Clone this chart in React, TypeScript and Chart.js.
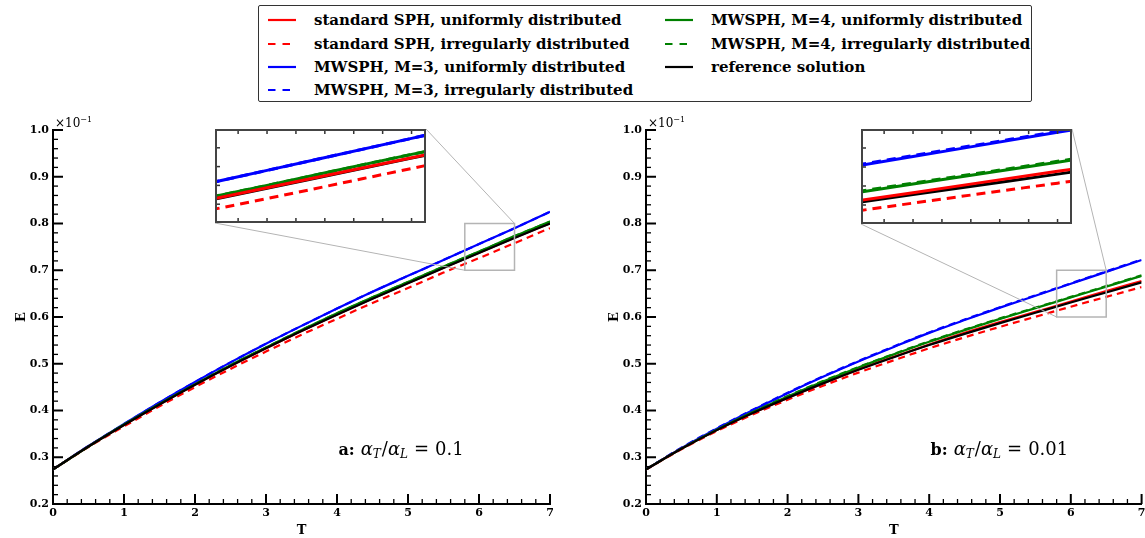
import React, { useEffect, useRef } from "react";
import { Chart, registerables } from "chart.js";
Chart.register(...registerables);

// ---------------- data ----------------
const T_VALUES = [0, 0.5, 1, 1.5, 2, 2.5, 3, 3.5, 4, 4.5, 5, 5.5, 6, 6.5, 7];

// panel a: alpha_T/alpha_L = 0.1
const A_SPH_UNIFORM = [0.274, 0.323, 0.369, 0.413, 0.455, 0.495, 0.533, 0.570, 0.6055, 0.6395, 0.6725, 0.7055, 0.7375, 0.7695, 0.8005];
const A_SPH_IRREGULAR = [0.274, 0.322, 0.366, 0.409, 0.450, 0.489, 0.526, 0.562, 0.596, 0.630, 0.662, 0.695, 0.726, 0.758, 0.790];
const A_M3_UNIFORM = [0.274, 0.324, 0.371, 0.417, 0.461, 0.503, 0.543, 0.581, 0.618, 0.654, 0.688, 0.722, 0.756, 0.790, 0.825];
const A_M3_IRREGULAR = [0.274, 0.324, 0.371, 0.417, 0.461, 0.503, 0.543, 0.581, 0.618, 0.654, 0.688, 0.722, 0.756, 0.790, 0.825];
const A_M4_UNIFORM = [0.274, 0.323, 0.370, 0.414, 0.456, 0.497, 0.535, 0.572, 0.608, 0.642, 0.675, 0.708, 0.740, 0.773, 0.804];
const A_M4_IRREGULAR = [0.274, 0.323, 0.370, 0.414, 0.456, 0.497, 0.535, 0.572, 0.608, 0.642, 0.675, 0.708, 0.740, 0.773, 0.804];
const A_REFERENCE = [0.274, 0.323, 0.369, 0.413, 0.455, 0.495, 0.533, 0.570, 0.605, 0.639, 0.672, 0.705, 0.737, 0.769, 0.800];

// panel b: alpha_T/alpha_L = 0.01
const B_SPH_UNIFORM = [0.274, 0.318, 0.358, 0.394, 0.427, 0.458, 0.488, 0.515, 0.541, 0.566, 0.589, 0.611, 0.633, 0.6555, 0.677];
const B_SPH_IRREGULAR = [0.274, 0.317, 0.356, 0.391, 0.423, 0.453, 0.481, 0.5075, 0.533, 0.5565, 0.579, 0.6005, 0.622, 0.643, 0.664];
const B_M3_UNIFORM = [0.274, 0.3195, 0.361, 0.400, 0.437, 0.472, 0.505, 0.536, 0.566, 0.5935, 0.620, 0.6455, 0.671, 0.6965, 0.722];
const B_M3_IRREGULAR = [0.274, 0.3205, 0.362, 0.401, 0.438, 0.473, 0.506, 0.537, 0.567, 0.5945, 0.621, 0.6465, 0.672, 0.6975, 0.723];
const B_M4_UNIFORM = [0.274, 0.3185, 0.359, 0.396, 0.430, 0.462, 0.492, 0.520, 0.547, 0.572, 0.596, 0.619, 0.642, 0.665, 0.688];
const B_M4_IRREGULAR = [0.274, 0.319, 0.360, 0.397, 0.431, 0.463, 0.493, 0.521, 0.548, 0.573, 0.597, 0.620, 0.643, 0.666, 0.689];
const B_REFERENCE = [0.274, 0.318, 0.358, 0.394, 0.427, 0.458, 0.487, 0.514, 0.540, 0.564, 0.587, 0.609, 0.631, 0.6525, 0.674];

const SERIES_LABELS = [
  "standard SPH, uniformly distributed",
  "standard SPH, irregularly distributed",
  "MWSPH, M=3, uniformly distributed",
  "MWSPH, M=3, irregularly distributed",
  "MWSPH, M=4, uniformly distributed",
  "MWSPH, M=4, irregularly distributed",
  "reference solution",
];
const SERIES_COLORS = ["#ff0000", "#ff0000", "#0000ff", "#0000ff", "#008000", "#008000", "#000000"];
const SERIES_DASHED = [false, true, false, true, false, true, false];

const X_TICKS = [0, 1, 2, 3, 4, 5, 6, 7];
const Y_TICKS = [0.2, 0.3, 0.4, 0.5, 0.6, 0.7, 0.8, 0.9, 1.0];
const INSET_X_TICKS = [5.9, 6.0, 6.1, 6.2, 6.3, 6.4, 6.5];
const A_INSET_Y_TICKS = [0.72, 0.74, 0.76, 0.78];
const B_INSET_Y_TICKS = [0.62, 0.64, 0.66, 0.68];

// ---------------- layout / style ----------------
const SERIF = '"DejaVu Serif", serif';
const MAIN_TOP = 100;
const MAIN_W = 590;
const MAIN_H = 438;
const MAIN_ORDER = [2, 5, 3, 6, 1, 4, 0];
const INSET_ORDER = [0, 5, 3, 6, 2, 4, 1];

const PANELS = [
  {
    series: [A_SPH_UNIFORM, A_SPH_IRREGULAR, A_M3_UNIFORM, A_M3_IRREGULAR, A_M4_UNIFORM, A_M4_IRREGULAR, A_REFERENCE],
    canvasLeft: 0,
    padRight: 40,
    zoomX: [5.8, 6.5],
    zoomY: [0.7, 0.8],
    insetX: [5.82, 6.55],
    insetY: [0.7, 0.8],
    insetYTicks: A_INSET_Y_TICKS,
    inset: { left: 215, top: 129, w: 211, h: 94 },
    tag: "a:",
    ratio: "0.1",
  },
  {
    series: [B_SPH_UNIFORM, B_SPH_IRREGULAR, B_M3_UNIFORM, B_M3_IRREGULAR, B_M4_UNIFORM, B_M4_IRREGULAR, B_REFERENCE],
    canvasLeft: 593,
    padRight: 41.4,
    zoomX: [5.8, 6.5],
    zoomY: [0.6, 0.7],
    insetX: [5.82, 6.55],
    insetY: [0.6, 0.7],
    insetYTicks: B_INSET_Y_TICKS,
    inset: { left: 861, top: 129, w: 211, h: 95 },
    tag: "b:",
    ratio: "0.01",
  },
];

function drawParts(ctx: CanvasRenderingContext2D, x: number, y: number, parts: any[]) {
  let cx = x;
  ctx.textBaseline = "alphabetic";
  ctx.textAlign = "left";
  for (const p of parts) {
    ctx.font = p.font;
    ctx.fillText(p.text, cx, y + (p.dy || 0));
    cx += ctx.measureText(p.text).width + (p.after || 0);
  }
}

const mainDecor = {
  id: "mainDecor",
  afterDraw(chart: any, _args: any, opts: any) {
    const { ctx, chartArea } = chart;
    const xs = chart.scales.x;
    const ys = chart.scales.y;
    const p = opts.panel;
    ctx.save();
    ctx.lineCap = "butt";
    ctx.strokeStyle = "#000";
    const xLine = (v: number, len: number, w: number) => {
      const px = xs.getPixelForValue(v);
      ctx.lineWidth = w;
      ctx.beginPath();
      ctx.moveTo(px, chartArea.bottom);
      ctx.lineTo(px, chartArea.bottom - len);
      ctx.stroke();
    };
    const yLine = (v: number, len: number, w: number) => {
      const py = ys.getPixelForValue(v);
      ctx.lineWidth = w;
      ctx.beginPath();
      ctx.moveTo(chartArea.left, py);
      ctx.lineTo(chartArea.left + len, py);
      ctx.stroke();
    };
    for (let i = 0; i < X_TICKS.length - 1; i++) {
      for (let k = 1; k < 5; k++) xLine(X_TICKS[i] + (k * (X_TICKS[i + 1] - X_TICKS[i])) / 5, 5, 1.3);
    }
    X_TICKS.forEach((v) => xLine(v, 10, 2));
    for (let i = 0; i < Y_TICKS.length - 1; i++) {
      for (let k = 1; k < 5; k++) yLine(Y_TICKS[i] + (k * (Y_TICKS[i + 1] - Y_TICKS[i])) / 5, 5, 1.3);
    }
    Y_TICKS.forEach((v) => yLine(v, 10, 2));

    // zoom rectangle + connectors
    const rx0 = xs.getPixelForValue(p.zoomX[0]);
    const rx1 = xs.getPixelForValue(p.zoomX[1]);
    const ry0 = ys.getPixelForValue(p.zoomY[0]);
    const ry1 = ys.getPixelForValue(p.zoomY[1]);
    ctx.strokeStyle = "#b4b4b4";
    ctx.lineWidth = 1.5;
    ctx.strokeRect(rx0, ry1, rx1 - rx0, ry0 - ry1);
    ctx.lineWidth = 1;
    const il = p.inset.left - p.canvasLeft;
    const it = p.inset.top - MAIN_TOP;
    ctx.beginPath();
    ctx.moveTo(il + p.inset.w, it);
    ctx.lineTo(rx1, ry1);
    ctx.moveTo(il, it + p.inset.h);
    ctx.lineTo(rx0, ry0);
    ctx.stroke();

    // offset label x10^-1
    ctx.fillStyle = "#000";
    drawParts(ctx, chartArea.left + 2, chartArea.top - 3, [
      { text: "×10", font: `12px ${SERIF}` },
      { text: "−1", font: `8px ${SERIF}`, dy: -5 },
    ]);

    // annotation
    const ax = xs.getPixelForValue(4.02);
    const ay = ys.getPixelForValue(0.304);
    drawParts(ctx, ax, ay, [
      { text: p.tag, font: `bold 16px ${SERIF}`, after: 6 },
      { text: "α", font: `italic 18px ${SERIF}` },
      { text: "T", font: `italic 12px ${SERIF}`, dy: 3, after: 1 },
      { text: "/", font: `18px ${SERIF}` },
      { text: "α", font: `italic 18px ${SERIF}` },
      { text: "L", font: `italic 12px ${SERIF}`, dy: 3, after: 6 },
      { text: "=", font: `18px ${SERIF}`, after: 6 },
      { text: p.ratio, font: `18px ${SERIF}` },
    ]);
    ctx.restore();
  },
};

const insetDecor = {
  id: "insetDecor",
  beforeDraw(chart: any) {
    const { ctx, width, height } = chart;
    ctx.save();
    ctx.fillStyle = "#fff";
    ctx.fillRect(0, 0, width, height);
    ctx.restore();
  },
  afterDraw(chart: any, _args: any, opts: any) {
    const { ctx, chartArea } = chart;
    const xs = chart.scales.x;
    const ys = chart.scales.y;
    const p = opts.panel;
    ctx.save();
    ctx.strokeStyle = "#333";
    ctx.lineWidth = 1.5;
    INSET_X_TICKS.forEach((v) => {
      const px = xs.getPixelForValue(v);
      ctx.beginPath();
      ctx.moveTo(px, chartArea.top);
      ctx.lineTo(px, chartArea.top + 5);
      ctx.moveTo(px, chartArea.bottom);
      ctx.lineTo(px, chartArea.bottom - 5);
      ctx.stroke();
    });
    p.insetYTicks.forEach((v: number) => {
      const py = ys.getPixelForValue(v);
      ctx.beginPath();
      ctx.moveTo(chartArea.left, py);
      ctx.lineTo(chartArea.left + 5, py);
      ctx.stroke();
    });
    ctx.strokeStyle = "#444";
    ctx.lineWidth = 2;
    ctx.strokeRect(chartArea.left + 1, chartArea.top + 1, chartArea.right - chartArea.left - 2, chartArea.bottom - chartArea.top - 2);
    ctx.restore();
  },
};

function datasetsFor(panel: any, width: number, dash: number[], order: number[]) {
  return panel.series.map((arr: number[], i: number) => ({
    label: SERIES_LABELS[i],
    data: T_VALUES.map((t, k) => ({ x: t, y: arr[k] })),
    borderColor: SERIES_COLORS[i],
    backgroundColor: SERIES_COLORS[i],
    borderWidth: width,
    borderDash: SERIES_DASHED[i] ? dash : [],
    pointRadius: 0,
    fill: false,
    cubicInterpolationMode: "monotone",
    order: order[i],
  }));
}

const TICK_FONT = { family: SERIF, size: 11, weight: "bold" as const };
const TITLE_FONT = { family: SERIF, size: 13, weight: "bold" as const };

function makeMain(canvas: HTMLCanvasElement, panel: any) {
  return new Chart(canvas, {
    type: "line",
    data: { datasets: datasetsFor(panel, 2.2, [7, 5], MAIN_ORDER) },
    options: {
      responsive: false,
      animation: false,
      devicePixelRatio: 1,
      events: [],
      layout: { padding: { left: 0, top: 30, right: panel.padRight, bottom: 0 } },
      plugins: {
        legend: { display: false },
        tooltip: { enabled: false },
        mainDecor: { panel },
      } as any,
      scales: {
        x: {
          type: "linear",
          min: 0,
          max: 7,
          afterBuildTicks: (s: any) => {
            s.ticks = X_TICKS.map((v) => ({ value: v }));
          },
          afterFit: (s: any) => {
            s.height = 34;
          },
          ticks: { padding: 3, font: TICK_FONT, color: "#000", autoSkip: false, maxRotation: 0, callback: (v: any) => String(v) },
          grid: { display: false, drawTicks: false },
          border: { display: true, color: "#000", width: 2 },
          title: { display: true, text: "T", font: TITLE_FONT, color: "#000", padding: { top: 0, bottom: 0 } },
        },
        y: {
          type: "linear",
          min: 0.2,
          max: 1.0,
          afterBuildTicks: (s: any) => {
            s.ticks = Y_TICKS.map((v) => ({ value: v }));
          },
          afterFit: (s: any) => {
            s.width = 53;
          },
          ticks: { padding: 4, font: TICK_FONT, color: "#000", autoSkip: false, callback: (v: any) => Number(v).toFixed(1) },
          grid: { display: false, drawTicks: false },
          border: { display: true, color: "#000", width: 2 },
          title: { display: true, text: "E", font: TITLE_FONT, color: "#000", padding: { top: 14, bottom: 0 } },
        },
      },
    } as any,
    plugins: [mainDecor as any],
  });
}

function makeInset(canvas: HTMLCanvasElement, panel: any) {
  return new Chart(canvas, {
    type: "line",
    data: { datasets: datasetsFor(panel, 3, [9, 6], INSET_ORDER) },
    options: {
      responsive: false,
      animation: false,
      devicePixelRatio: 1,
      events: [],
      layout: { padding: 0 },
      plugins: {
        legend: { display: false },
        tooltip: { enabled: false },
        insetDecor: { panel },
      } as any,
      scales: {
        x: { type: "linear", display: false, min: panel.insetX[0], max: panel.insetX[1] },
        y: { type: "linear", display: false, min: panel.insetY[0], max: panel.insetY[1] },
      },
    } as any,
    plugins: [insetDecor as any],
  });
}

// legend layout (relative to legend box)
const LEGEND_COL_X = [9, 406];
const LEGEND_ROW_Y = [14, 38, 61, 84];
const LEGEND_POS = [
  [0, 0],
  [0, 1],
  [0, 2],
  [0, 3],
  [1, 0],
  [1, 1],
  [1, 2],
];

function Legend() {
  return (
    <div
      style={{
        position: "absolute",
        left: 258,
        top: 5,
        width: 774,
        height: 97,
        boxSizing: "border-box",
        border: "1px solid #333",
        borderRadius: 2,
        background: "#fff",
        zIndex: 5,
        fontFamily: SERIF,
        fontWeight: "bold",
        fontSize: 15,
        color: "#000",
      }}
    >
      {SERIES_LABELS.map((label, i) => {
        const [c, r] = LEGEND_POS[i];
        return (
          <div
            key={i}
            style={{
              position: "absolute",
              left: LEGEND_COL_X[c],
              top: LEGEND_ROW_Y[r] - 10,
              height: 20,
              display: "flex",
              alignItems: "center",
              whiteSpace: "nowrap",
            }}
          >
            <svg width={28} height={4} style={{ display: "block" }}>
              <line
                x1={0}
                y1={2}
                x2={28}
                y2={2}
                stroke={SERIES_COLORS[i]}
                strokeWidth={2.2}
                strokeDasharray={SERIES_DASHED[i] ? "7.5 7" : undefined}
              />
            </svg>
            <span style={{ marginLeft: 18, lineHeight: "20px" }}>{label}</span>
          </div>
        );
      })}
    </div>
  );
}

export default function App() {
  const aMain = useRef<HTMLCanvasElement>(null);
  const bMain = useRef<HTMLCanvasElement>(null);
  const aInset = useRef<HTMLCanvasElement>(null);
  const bInset = useRef<HTMLCanvasElement>(null);

  useEffect(() => {
    const charts = [
      makeMain(aMain.current!, PANELS[0]),
      makeMain(bMain.current!, PANELS[1]),
      makeInset(aInset.current!, PANELS[0]),
      makeInset(bInset.current!, PANELS[1]),
    ];
    return () => charts.forEach((c) => c.destroy());
  }, []);

  const mainRefs = [aMain, bMain];
  const insetRefs = [aInset, bInset];

  return (
    <div style={{ position: "fixed", left: 0, top: 0, width: 1145, height: 538, overflow: "hidden", background: "#fff" }}>
      <Legend />
      {PANELS.map((p, i) => (
        <canvas
          key={"m" + i}
          ref={mainRefs[i]}
          width={MAIN_W}
          height={MAIN_H}
          style={{ position: "absolute", left: p.canvasLeft, top: MAIN_TOP, width: MAIN_W, height: MAIN_H }}
        />
      ))}
      {PANELS.map((p, i) => (
        <canvas
          key={"i" + i}
          ref={insetRefs[i]}
          width={p.inset.w}
          height={p.inset.h}
          style={{ position: "absolute", left: p.inset.left, top: p.inset.top, width: p.inset.w, height: p.inset.h, zIndex: 3 }}
        />
      ))}
    </div>
  );
}
